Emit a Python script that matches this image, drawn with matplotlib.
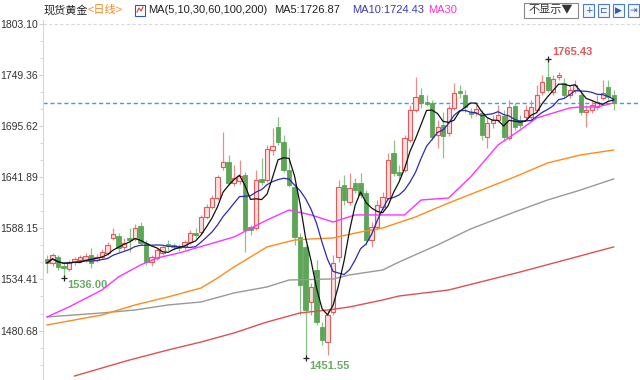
import matplotlib
matplotlib.use("Agg")
import matplotlib.pyplot as plt
import matplotlib.patches as mpatches
import numpy as np
import pandas as pd

plt.rcParams['font.family'] = ['Liberation Sans', 'Noto Sans CJK SC', 'DejaVu Sans']

# daily candles
opens = [1555.9, 1551.7, 1558.0, 1548.5, 1545.4, 1552.7, 1554.8, 1554.8, 1560.1, 1554.8,
         1558.0, 1562.2, 1577.9, 1580.0, 1568.5, 1577.9, 1577.9, 1590.5, 1572.7, 1552.7,
         1556.9, 1562.2, 1571.6, 1570.6, 1569.5, 1568.5, 1573.7, 1583.2, 1584.2, 1600.0,
         1610.5, 1619.9, 1652.5, 1657.7, 1635.7, 1637.8, 1644.1, 1589.5, 1588.4, 1639.9,
         1638.8, 1670.3, 1694.5, 1678.7, 1649.3, 1631.5, 1579.0, 1568.5, 1510.7, 1544.3,
         1484.5, 1468.7, 1500.2, 1558.0, 1633.6, 1615.7, 1635.7, 1635.7, 1625.2, 1575.8,
         1589.5, 1610.5, 1619.9, 1667.2, 1647.2, 1649.3, 1680.8, 1712.3, 1728.1, 1720.7,
         1719.7, 1686.1, 1696.6, 1688.2, 1714.4, 1732.3, 1728.1, 1710.2, 1709.2, 1709.2,
         1684.0, 1698.7, 1701.8, 1706.0, 1682.9, 1716.5, 1701.8, 1705.0, 1705.0, 1712.3,
         1731.2, 1747.0, 1731.2, 1747.0, 1740.7, 1728.1, 1733.3, 1728.1, 1710.2, 1712.3,
         1715.5, 1724.9, 1736.5, 1728.1]
highs = [1560.1, 1562.2, 1560.1, 1552.7, 1554.8, 1558.0, 1560.1, 1562.2, 1567.4, 1561.1,
         1566.4, 1573.7, 1588.4, 1583.2, 1577.9, 1588.4, 1592.6, 1594.7, 1575.8, 1560.1,
         1567.4, 1570.6, 1575.8, 1572.7, 1571.6, 1575.8, 1586.3, 1588.4, 1602.1, 1613.6,
         1623.1, 1644.1, 1689.2, 1665.1, 1654.6, 1659.8, 1647.2, 1591.6, 1649.3, 1661.9,
         1675.6, 1693.4, 1705.0, 1686.1, 1672.4, 1635.7, 1583.2, 1570.6, 1530.7, 1554.8,
         1489.7, 1502.3, 1560.1, 1638.8, 1644.1, 1646.2, 1640.9, 1646.2, 1628.3, 1594.7,
         1617.8, 1626.2, 1667.2, 1680.8, 1654.6, 1686.1, 1717.6, 1747.0, 1735.4, 1728.1,
         1722.8, 1701.8, 1710.2, 1717.6, 1740.7, 1738.6, 1733.3, 1714.4, 1717.6, 1712.3,
         1703.9, 1707.1, 1717.6, 1712.3, 1722.8, 1719.7, 1707.1, 1717.6, 1722.8, 1738.6,
         1749.1, 1765.43, 1749.1, 1752.2, 1745.9, 1738.6, 1743.8, 1731.2, 1717.6, 1722.8,
         1728.1, 1743.8, 1743.8, 1733.3]
lows = [1541.2, 1548.5, 1544.3, 1536.0, 1543.3, 1549.6, 1552.7, 1552.7, 1546.4, 1552.7,
        1555.9, 1560.1, 1575.8, 1563.2, 1565.3, 1563.2, 1574.8, 1570.6, 1549.6, 1548.5,
        1554.8, 1560.1, 1565.3, 1565.3, 1564.3, 1566.4, 1571.6, 1577.9, 1582.1, 1597.9,
        1608.4, 1617.8, 1649.3, 1633.6, 1632.5, 1634.6, 1563.2, 1581.1, 1586.3, 1633.6,
        1636.7, 1665.1, 1675.6, 1647.2, 1631.5, 1570.6, 1497.1, 1451.55, 1497.1, 1486.6,
        1465.6, 1455.1, 1497.1, 1552.7, 1612.6, 1612.6, 1625.2, 1619.9, 1570.6, 1568.5,
        1586.3, 1607.3, 1617.8, 1643.0, 1638.8, 1647.2, 1678.7, 1710.2, 1714.4, 1716.5,
        1680.8, 1672.4, 1661.9, 1685.0, 1712.3, 1724.9, 1710.2, 1703.9, 1706.0, 1680.8,
        1672.4, 1693.4, 1699.7, 1680.8, 1680.8, 1691.3, 1693.4, 1701.8, 1701.8, 1710.2,
        1728.1, 1731.2, 1728.1, 1743.8, 1724.9, 1724.9, 1730.2, 1707.1, 1694.5, 1709.2,
        1712.3, 1722.8, 1722.8, 1712.3]
closes = [1551.7, 1560.1, 1547.5, 1546.4, 1552.7, 1555.9, 1558.0, 1559.0, 1551.7, 1558.0,
          1563.2, 1570.6, 1582.1, 1567.4, 1572.7, 1575.8, 1588.4, 1572.7, 1552.7, 1558.0,
          1565.3, 1568.5, 1569.5, 1568.5, 1567.4, 1573.7, 1583.2, 1581.1, 1600.0, 1610.5,
          1619.9, 1642.0, 1657.7, 1635.7, 1640.9, 1643.0, 1586.3, 1586.3, 1638.8, 1636.7,
          1671.4, 1674.5, 1678.7, 1649.3, 1633.6, 1579.0, 1528.6, 1502.3, 1526.5, 1489.7,
          1470.8, 1497.1, 1551.7, 1631.5, 1617.8, 1630.4, 1628.3, 1623.1, 1575.8, 1589.5,
          1612.6, 1620.9, 1659.8, 1646.2, 1644.1, 1682.9, 1712.3, 1726.0, 1719.7, 1718.6,
          1684.0, 1694.5, 1685.0, 1714.4, 1730.2, 1730.2, 1715.5, 1708.1, 1713.4, 1686.1,
          1698.7, 1701.8, 1707.1, 1684.0, 1715.5, 1694.5, 1696.6, 1712.3, 1715.5, 1728.1,
          1741.7, 1733.3, 1744.9, 1749.1, 1728.1, 1733.3, 1738.6, 1710.2, 1712.3, 1717.6,
          1720.7, 1730.2, 1725.9, 1719.7]

# longer moving averages, read at a few candles
ma30_idx = [0, 4, 10, 13, 17, 20, 24, 29, 34, 40, 44, 48, 52, 56, 61, 65, 68, 73, 77, 82, 86, 89, 95, 97, 100, 103]
ma30_val = [1495.0, 1505.5, 1523.3, 1537.0, 1549.6, 1556.9, 1562.2, 1570.6, 1579.0, 1596.8, 1607.3, 1602.1, 1594.7,
            1602.1, 1602.1, 1602.1, 1617.8, 1619.9, 1642.0, 1675.6, 1691.3, 1703.9, 1714.4, 1715.5, 1715.5, 1719.7]
ma60_idx = [0, 10, 16, 22, 28, 31, 34, 40, 45, 48, 52, 57, 61, 67, 73, 79, 85, 91, 97, 103]
ma60_val = [1486.6, 1497.1, 1507.6, 1516.0, 1525.4, 1535.9, 1547.5, 1568.5, 1575.8, 1576.9, 1577.9, 1584.2,
            1588.4, 1600.0, 1614.7, 1628.3, 1642.0, 1656.7, 1665.1, 1670.3]
ma100_idx = [0, 10, 16, 22, 28, 34, 40, 44, 52, 55, 61, 64, 71, 77, 85, 91, 97, 103]
ma100_val = [1495.0, 1499.2, 1502.3, 1507.6, 1510.7, 1520.2, 1526.5, 1533.8, 1534.9, 1539.1, 1544.3, 1552.7,
             1570.6, 1587.4, 1605.2, 1617.8, 1628.3, 1639.9]
ma200_idx = [5, 15, 22, 28, 34, 40, 46, 51, 55, 61, 64, 73, 86, 103]
ma200_val = [1433.0, 1449.8, 1460.3, 1468.7, 1478.2, 1489.7, 1499.2, 1502.3, 1505.5, 1512.8, 1517.0, 1523.3,
             1542.2, 1568.5]

tick_vals = [1480.68, 1534.41, 1588.15, 1641.89, 1695.62, 1749.36, 1803.10]
tick_labels = ["1480.68", "1534.41", "1588.15", "1641.89", "1695.62", "1749.36", "1803.10"]

W, H = 640, 380
fig = plt.figure(figsize=(6.4, 3.8), dpi=100)
ax = fig.add_axes([43 / W, 0, 597 / W, 360 / H])

o = np.array(opens)
c = np.array(closes)
hi = np.array(highs)
lo = np.array(lows)
x = np.arange(len(c))
up = c >= o

red_edge, red_face, red_wick = "#e05a5a", "#fbdede", "#e88c8c"
grn_face, grn_wick = "#5da657", "#8cc487"

ax.vlines(x[up], lo[up], hi[up], color=red_wick, lw=0.9, zorder=2)
ax.vlines(x[~up], lo[~up], hi[~up], color=grn_wick, lw=0.9, zorder=2)
body_lo = np.minimum(o, c)
body_h = np.maximum(np.abs(c - o), 0.8)
ax.bar(x[up], body_h[up], bottom=body_lo[up], width=0.75, color=red_face,
       edgecolor=red_edge, linewidth=0.8, zorder=3)
ax.bar(x[~up], body_h[~up], bottom=body_lo[~up], width=0.75, color=grn_face,
       edgecolor=grn_face, linewidth=0.6, zorder=3)

s = pd.Series(closes)
ma5 = s.rolling(5, min_periods=1).mean()
ma10 = s.rolling(10, min_periods=1).mean()

ax.plot(ma200_idx, ma200_val, color="#e05050", lw=1.0, zorder=4)
ax.plot(ma100_idx, ma100_val, color="#999999", lw=1.0, zorder=4)
ax.plot(ma60_idx, ma60_val, color="#ff8c1a", lw=1.0, zorder=4)
ax.plot(ma30_idx, ma30_val, color="#ff33ff", lw=1.0, zorder=4)
ax.plot(x, ma10, color="#2b2bb0", lw=0.9, zorder=5)
ax.plot(x, ma5, color="#111111", lw=0.9, zorder=6)

# current price & top grid
ax.axhline(closes[-1], color="#3d9bf0", lw=1.0, ls=(0, (3, 2)), zorder=1)
ax.axhline(tick_vals[-1], color="#d9d9d9", lw=0.8, ls=(0, (3, 2)), zorder=1)

# high / low markers
i_hi = int(np.argmax(hi))
i_lo = int(np.argmin(lo))
i_lo2 = 3
for i in (i_hi, i_lo, i_lo2):
    ax.plot(i, lows[i] if i != i_hi else highs[i], marker="+", color="#222222", ms=5, mew=0.9, zorder=7)
ax.annotate(f"{highs[i_hi]:.2f}", (i_hi, highs[i_hi]), xytext=(5, 7), textcoords="offset pixels",
            ha="left", va="center", fontsize=8, fontweight="bold", color="#e05a5a")
ax.annotate(f"{lows[i_lo]:.2f}", (i_lo, lows[i_lo]), xytext=(4, -8), textcoords="offset pixels",
            ha="left", va="center", fontsize=8, fontweight="bold", color="#6aaa64")
ax.annotate(f"{lows[i_lo2]:.2f}", (i_lo2, lows[i_lo2]), xytext=(4, -7), textcoords="offset pixels",
            ha="left", va="center", fontsize=8, fontweight="bold", color="#6aaa64")

ax.set_xlim(-0.727, 107.8)
ax.set_ylim(1428.8, 1806.8)
ax.set_yticks(tick_vals)
ax.set_yticklabels(tick_labels)
step = (tick_vals[1] - tick_vals[0]) / 3
ax.set_yticks(np.arange(tick_vals[0] - 2 * step, 1806.8, step), minor=True)
ax.tick_params(axis="y", which="major", length=3, color="#c8d0d8", labelsize=7.5, labelcolor="#333333", pad=0.5)
ax.tick_params(axis="y", which="minor", length=2, color="#c8d0d8")
ax.set_xticks([])
for sp in ("top", "right", "bottom"):
    ax.spines[sp].set_visible(False)
ax.spines["left"].set_color("#d0d8e0")

# header
def ftxt(px, py, s, **kw):
    fig.text(px / W, 1 - py / H, s, va="center", ha="left", fontsize=8, **kw)

ftxt(44, 10, "现货黄金", color="#222222")
ftxt(88, 10, "<日线>", color="#f08a24")
fig.patches.append(mpatches.Rectangle((135 / W, 1 - 16 / H), 10 / W, 11 / H, transform=fig.transFigure,
                                      fill=False, edgecolor="#3355aa", lw=0.8))
fig.lines.append(plt.Line2D([137 / W, 139 / W, 141 / W, 143 / W], [1 - 12 / H, 1 - 8 / H, 1 - 11 / H, 1 - 7 / H],
                            transform=fig.transFigure, color="#d04040", lw=0.8))
ftxt(148, 10, "MA(5,10,30,60,100,200)", color="#222222")
ftxt(274, 10, "MA5:1726.87", color="#222222")
ftxt(352, 10, "MA10:1724.43", color="#3b3bb3")
ftxt(428, 10, "MA30", color="#ff33cc")

fig.patches.append(mpatches.Rectangle((524 / W, 1 - 18 / H), 54 / W, 15 / H, transform=fig.transFigure,
                                      facecolor="white", edgecolor="#888888", lw=0.8))
fig.text(551 / W, 1 - 10.5 / H, "不显示▼", ha="center", va="center", fontsize=8, color="#333333",
         family=["Noto Sans CJK SC", "DejaVu Sans"])
for px, g in zip([583, 598, 613, 628], ["+", "⊏", "▶", "⇥"]):
    fig.patches.append(mpatches.Rectangle((px / W, 1 - 17 / H), 11 / W, 13 / H, transform=fig.transFigure,
                                          facecolor="#f2f6fd", edgecolor="#4a7bd0", lw=0.8))
    fig.text((px + 5.5) / W, 1 - 10.5 / H, g, ha="center", va="center", fontsize=6.5, color="#2a5cc0",
             family=["DejaVu Sans"])

fig.savefig("out.png", dpi=100)
